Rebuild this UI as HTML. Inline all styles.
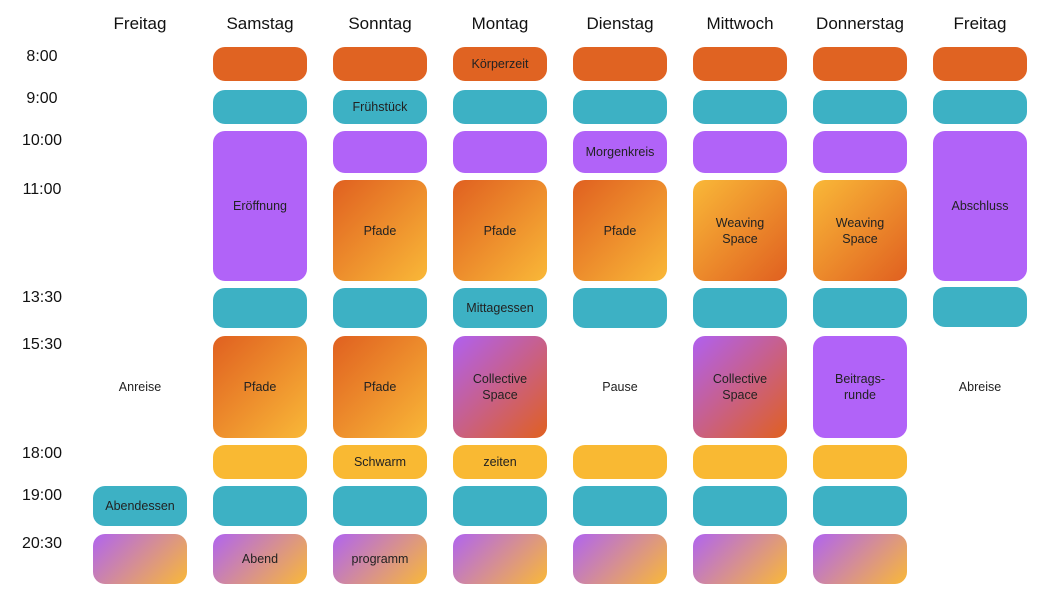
<!DOCTYPE html>
<html><head><meta charset="utf-8"><style>
body{margin:0;width:1050px;height:600px;background:#fff;position:relative;font-family:"Liberation Sans",sans-serif;overflow:hidden}
.h{position:absolute;top:14px;width:120px;text-align:center;font-size:17px;color:#111}
.t{position:absolute;left:0;width:84px;text-align:center;font-size:16px;color:#111}
.b{position:absolute;width:94px;border-radius:12px;display:flex;align-items:center;justify-content:center;text-align:center;font-size:12.5px;color:#222;line-height:16px}
.o{background:#e06322}.c{background:#3db1c4}.p{background:#b163f8}.y{background:#f9b933}
.pf{background:linear-gradient(135deg,#e06020,#f9b838)}
.ws{background:linear-gradient(135deg,#f9b838,#e06020)}
.cs{background:linear-gradient(135deg,#b060f0,#e06020)}
.ev{background:linear-gradient(135deg,#b064f0,#f9b838)}
.tx{position:absolute;width:94px;text-align:center;font-size:12.5px;color:#222}
</style></head><body>
<div class="h" style="left:80px">Freitag</div>
<div class="h" style="left:200px">Samstag</div>
<div class="h" style="left:320px">Sonntag</div>
<div class="h" style="left:440px">Montag</div>
<div class="h" style="left:560px">Dienstag</div>
<div class="h" style="left:680px">Mittwoch</div>
<div class="h" style="left:800px">Donnerstag</div>
<div class="h" style="left:920px">Freitag</div>

<div class="t" style="top:48px">8:00</div>
<div class="t" style="top:90px">9:00</div>
<div class="t" style="top:132px">10:00</div>
<div class="t" style="top:181px">11:00</div>
<div class="t" style="top:289px">13:30</div>
<div class="t" style="top:336px">15:30</div>
<div class="t" style="top:445px">18:00</div>
<div class="t" style="top:487px">19:00</div>
<div class="t" style="top:535px">20:30</div>

<div class="tx" style="left:93px;top:380px">Anreise</div>
<div class="b c" style="left:93px;top:486px;height:40px">Abendessen</div>
<div class="b ev" style="left:93px;top:534px;height:50px"></div>

<div class="b o" style="left:213px;top:47px;height:34px"></div>
<div class="b c" style="left:213px;top:90px;height:34px"></div>
<div class="b p" style="left:213px;top:131px;height:150px">Eröffnung</div>
<div class="b c" style="left:213px;top:288px;height:40px"></div>
<div class="b pf" style="left:213px;top:336px;height:102px">Pfade</div>
<div class="b y" style="left:213px;top:445px;height:34px"></div>
<div class="b c" style="left:213px;top:486px;height:40px"></div>
<div class="b ev" style="left:213px;top:534px;height:50px">Abend</div>

<div class="b o" style="left:333px;top:47px;height:34px"></div>
<div class="b c" style="left:333px;top:90px;height:34px">Frühstück</div>
<div class="b p" style="left:333px;top:131px;height:42px"></div>
<div class="b pf" style="left:333px;top:180px;height:101px">Pfade</div>
<div class="b c" style="left:333px;top:288px;height:40px"></div>
<div class="b pf" style="left:333px;top:336px;height:102px">Pfade</div>
<div class="b y" style="left:333px;top:445px;height:34px">Schwarm</div>
<div class="b c" style="left:333px;top:486px;height:40px"></div>
<div class="b ev" style="left:333px;top:534px;height:50px">programm</div>

<div class="b o" style="left:453px;top:47px;height:34px">Körperzeit</div>
<div class="b c" style="left:453px;top:90px;height:34px"></div>
<div class="b p" style="left:453px;top:131px;height:42px"></div>
<div class="b pf" style="left:453px;top:180px;height:101px">Pfade</div>
<div class="b c" style="left:453px;top:288px;height:40px">Mittagessen</div>
<div class="b cs" style="left:453px;top:336px;height:102px">Collective<br>Space</div>
<div class="b y" style="left:453px;top:445px;height:34px">zeiten</div>
<div class="b c" style="left:453px;top:486px;height:40px"></div>
<div class="b ev" style="left:453px;top:534px;height:50px"></div>

<div class="b o" style="left:573px;top:47px;height:34px"></div>
<div class="b c" style="left:573px;top:90px;height:34px"></div>
<div class="b p" style="left:573px;top:131px;height:42px">Morgenkreis</div>
<div class="b pf" style="left:573px;top:180px;height:101px">Pfade</div>
<div class="b c" style="left:573px;top:288px;height:40px"></div>
<div class="tx" style="left:573px;top:380px">Pause</div>
<div class="b y" style="left:573px;top:445px;height:34px"></div>
<div class="b c" style="left:573px;top:486px;height:40px"></div>
<div class="b ev" style="left:573px;top:534px;height:50px"></div>

<div class="b o" style="left:693px;top:47px;height:34px"></div>
<div class="b c" style="left:693px;top:90px;height:34px"></div>
<div class="b p" style="left:693px;top:131px;height:42px"></div>
<div class="b ws" style="left:693px;top:180px;height:101px">Weaving<br>Space</div>
<div class="b c" style="left:693px;top:288px;height:40px"></div>
<div class="b cs" style="left:693px;top:336px;height:102px">Collective<br>Space</div>
<div class="b y" style="left:693px;top:445px;height:34px"></div>
<div class="b c" style="left:693px;top:486px;height:40px"></div>
<div class="b ev" style="left:693px;top:534px;height:50px"></div>

<div class="b o" style="left:813px;top:47px;height:34px"></div>
<div class="b c" style="left:813px;top:90px;height:34px"></div>
<div class="b p" style="left:813px;top:131px;height:42px"></div>
<div class="b ws" style="left:813px;top:180px;height:101px">Weaving<br>Space</div>
<div class="b c" style="left:813px;top:288px;height:40px"></div>
<div class="b p" style="left:813px;top:336px;height:102px">Beitrags-<br>runde</div>
<div class="b y" style="left:813px;top:445px;height:34px"></div>
<div class="b c" style="left:813px;top:486px;height:40px"></div>
<div class="b ev" style="left:813px;top:534px;height:50px"></div>

<div class="b o" style="left:933px;top:47px;height:34px"></div>
<div class="b c" style="left:933px;top:90px;height:34px"></div>
<div class="b p" style="left:933px;top:131px;height:150px">Abschluss</div>
<div class="b c" style="left:933px;top:287px;height:40px"></div>
<div class="tx" style="left:933px;top:380px">Abreise</div>
</body></html>
